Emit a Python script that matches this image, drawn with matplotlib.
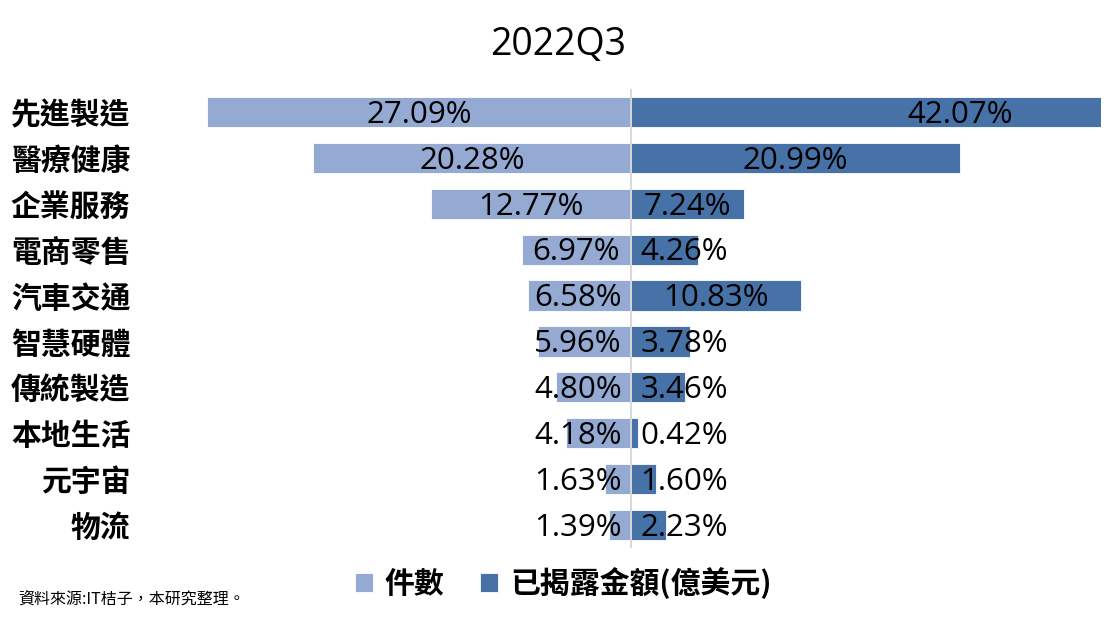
import matplotlib
matplotlib.use("Agg")
import matplotlib.pyplot as plt

plt.rcParams['font.family'] = ['Noto Sans CJK TC', 'DejaVu Sans']

title = "2022Q3"
categories = ["先進製造", "醫療健康", "企業服務", "電商零售", "汽車交通",
              "智慧硬體", "傳統製造", "本地生活", "元宇宙", "物流"]
count_pct = [27.09, 20.28, 12.77, 6.97, 6.58, 5.96, 4.80, 4.18, 1.63, 1.39]
amount_pct = [42.07, 20.99, 7.24, 4.26, 10.83, 3.78, 3.46, 0.42, 1.60, 2.23]
legend_labels = ["件數", "已揭露金額(億美元)"]
source_text = "資料來源:IT桔子，本研究整理。"

c_left = "#94AAD3"
c_right = "#4672A8"

W, H = 1115, 620
fig = plt.figure(figsize=(W / 100, H / 100), dpi=100)
ax = fig.add_axes([161 / W, (H - 548) / H, 940 / W, 459 / H])

y = list(range(len(categories)))
ax.barh(y, [-v for v in count_pct], height=0.66, color=c_left,
        edgecolor="white", linewidth=0.6, label=legend_labels[0])
ax.barh(y, amount_pct, height=0.66, color=c_right,
        edgecolor="white", linewidth=0.6, label=legend_labels[1])
ax.axvline(0, color="#D5D5D5", lw=1.3, zorder=5)

ax.set_xlim(-30, 30)
ax.set_ylim(len(categories) - 0.5, -0.5)
ax.set_xticks([])
ax.set_yticks(y)
ax.set_yticklabels(categories, fontsize=21.5, fontweight='bold')
ax.tick_params(axis='y', length=0, pad=22)
for s in ax.spines.values():
    s.set_visible(False)

num_font = dict(fontsize=22.5, family=['Open Sans', 'DejaVu Sans'], color='black', zorder=6)
dy = 0.06
left_texts = []
right_texts = []
for i, (a, b) in enumerate(zip(count_pct, amount_pct)):
    t1 = ax.text(-a / 2, i + dy, f"{a:.2f}%", ha='center', va='center', **num_font)
    t2 = ax.text(b / 2, i + dy, f"{b:.2f}%", ha='center', va='center', **num_font)
    left_texts.append((t1, a))
    right_texts.append((t2, b))

fig.canvas.draw()
r = fig.canvas.get_renderer()
inv = ax.transData.inverted()
margin = 0.6
for t, v in left_texts:
    bb = t.get_window_extent(r)
    x0 = inv.transform((bb.x0, 0))[0]
    x1 = inv.transform((bb.x1, 0))[0]
    half = (x1 - x0) / 2
    if -v / 2 + half > -margin:
        t.set_x(-margin - half)
for t, v in right_texts:
    bb = t.get_window_extent(r)
    x0 = inv.transform((bb.x0, 0))[0]
    x1 = inv.transform((bb.x1, 0))[0]
    half = (x1 - x0) / 2
    if v / 2 - half < margin:
        t.set_x(margin + half)

fig.text(558 / W, 1 - 45 / H, title, ha='center', va='center', fontsize=27,
         family=['Open Sans', 'DejaVu Sans'])

fig.legend(loc='center', bbox_to_anchor=(563 / W, 1 - 583 / H), ncol=2, frameon=False,
           prop={'size': 21.5, 'weight': 'bold'},
           handlelength=0.6, handleheight=0.6, handletextpad=0.4,
           columnspacing=1.2)

fig.text(18 / W, 1 - 599 / H, source_text, ha='left', va='center', fontsize=11.5)

fig.savefig("out.png", dpi=100)
